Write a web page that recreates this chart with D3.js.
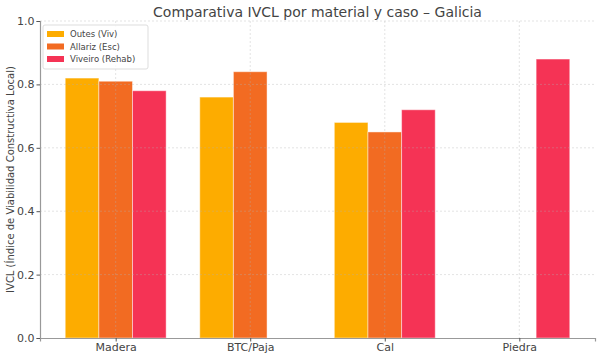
<!DOCTYPE html>
<html>
<head>
<meta charset="utf-8">
<script src="https://cdn.jsdelivr.net/npm/d3@7"></script>
<style>
  body { margin: 0; background: #fff; }
  text { font-family: "DejaVu Sans", sans-serif; fill: #444; }
</style>
</head>
<body>
<div id="chart"></div>
<script>
// Data
const CATEGORIES = ["Madera", "BTC/Paja", "Cal", "Piedra"];
const SERIES = ["Outes (Viv)", "Allariz (Esc)", "Viveiro (Rehab)"];
const OUTES = [0.82, 0.76, 0.68, null];
const ALLARIZ = [0.81, 0.84, 0.65, null];
const VIVEIRO = [0.78, null, 0.72, 0.88];
const Y_TICKS = [0.0, 0.2, 0.4, 0.6, 0.8, 1.0];
const COLORS = ["#fdac00", "#f26b22", "#f53355"];

// Constants
const FRAME_WIDTH = 600;
const FRAME_HEIGHT = 358;
const MARGINS = {left: 40, right: 5, top: 21, bottom: 20};
const VIS_WIDTH = FRAME_WIDTH - MARGINS.left - MARGINS.right;
const VIS_HEIGHT = FRAME_HEIGHT - MARGINS.top - MARGINS.bottom;

const FRAME = d3.select("#chart")
                .append("svg")
                  .attr("width", FRAME_WIDTH)
                  .attr("height", FRAME_HEIGHT);

const G = FRAME.append("g")
               .attr("transform", "translate(" + MARGINS.left + "," + MARGINS.top + ")");

const BAR_W = 0.25;
const X_SCALE = d3.scaleLinear()
                  .domain([-0.5625, CATEGORIES.length - 1 + 0.5625])
                  .range([0, VIS_WIDTH]);
const Y_SCALE = d3.scaleLinear()
                  .domain([0, 1])
                  .range([VIS_HEIGHT, 0]);

// Bars
const rows = [];
[OUTES, ALLARIZ, VIVEIRO].forEach((vals, s) => {
  vals.forEach((v, i) => {
    if (v !== null) rows.push({s: s, i: i, v: v});
  });
});

G.selectAll(".bar")
  .data(rows)
  .enter()
  .append("rect")
    .attr("class", "bar")
    .attr("x", d => X_SCALE(d.i + (d.s - 1) * BAR_W - BAR_W / 2))
    .attr("width", X_SCALE(BAR_W) - X_SCALE(0))
    .attr("y", d => Y_SCALE(d.v))
    .attr("height", d => VIS_HEIGHT - Y_SCALE(d.v))
    .attr("fill", d => COLORS[d.s])
    .attr("stroke", "#fff")
    .attr("stroke-opacity", 0.45)
    .attr("stroke-width", 1);

// Grid (shows faintly over bars)
const grid = G.append("g").attr("class", "grid");
grid.selectAll(".hgrid")
  .data(Y_TICKS.slice(1))
  .enter()
  .append("line")
    .attr("x1", 0).attr("x2", VIS_WIDTH)
    .attr("y1", d => Y_SCALE(d)).attr("y2", d => Y_SCALE(d))
    .attr("stroke", "#b0b0b0")
    .attr("stroke-opacity", 0.45)
    .attr("stroke-dasharray", "2,2")
    .attr("stroke-width", 0.8);
grid.selectAll(".vgrid")
  .data(CATEGORIES.map((c, i) => i))
  .enter()
  .append("line")
    .attr("x1", d => X_SCALE(d)).attr("x2", d => X_SCALE(d))
    .attr("y1", 0).attr("y2", VIS_HEIGHT)
    .attr("stroke", "#b0b0b0")
    .attr("stroke-opacity", 0.45)
    .attr("stroke-dasharray", "2,2")
    .attr("stroke-width", 0.8);

// X axis
const xAxis = G.append("g")
  .attr("transform", "translate(0," + VIS_HEIGHT + ")")
  .call(d3.axisBottom(X_SCALE)
          .tickValues(CATEGORIES.map((c, i) => i))
          .tickFormat(i => CATEGORIES[i])
          .tickSize(3.5)
          .tickPadding(1.5));
xAxis.select(".domain").attr("stroke", "#999").attr("stroke-width", 1.2);
xAxis.selectAll(".tick line").attr("stroke", "#555");
xAxis.selectAll("text").attr("font-size", "11px").style("fill", "#444");

// Y axis
const yAxis = G.append("g")
  .call(d3.axisLeft(Y_SCALE)
          .tickValues(Y_TICKS)
          .tickFormat(d3.format(".1f"))
          .tickSize(3.5)
          .tickPadding(2));
yAxis.select(".domain").attr("stroke", "#999").attr("stroke-width", 1.2);
yAxis.selectAll(".tick line").attr("stroke", "#555");
yAxis.selectAll("text").attr("font-size", "11px").style("fill", "#444");

// Title
FRAME.append("text")
  .attr("x", MARGINS.left + VIS_WIDTH / 2)
  .attr("y", 17)
  .attr("text-anchor", "middle")
  .attr("font-size", "14px")
  .text("Comparativa IVCL por material y caso – Galicia");

// Y label
FRAME.append("text")
  .attr("transform", "translate(14," + (MARGINS.top + VIS_HEIGHT / 2) + ") rotate(-90)")
  .attr("text-anchor", "middle")
  .attr("font-size", "10px")
  .text("IVCL (Índice de Viabilidad Constructiva Local)");

// Legend
const legend = G.append("g").attr("transform", "translate(3,4)");
legend.append("rect")
  .attr("width", 105)
  .attr("height", 44)
  .attr("rx", 2)
  .attr("fill", "#fff")
  .attr("fill-opacity", 0.8)
  .attr("stroke", "#ddd");
SERIES.forEach((name, s) => {
  legend.append("rect")
    .attr("x", 4)
    .attr("y", 6 + s * 12.5)
    .attr("width", 17)
    .attr("height", 6)
    .attr("fill", COLORS[s]);
  legend.append("text")
    .attr("x", 27)
    .attr("y", 12 + s * 12.5)
    .attr("font-size", "8.5px")
    .text(name);
});
</script>
</body>
</html>
